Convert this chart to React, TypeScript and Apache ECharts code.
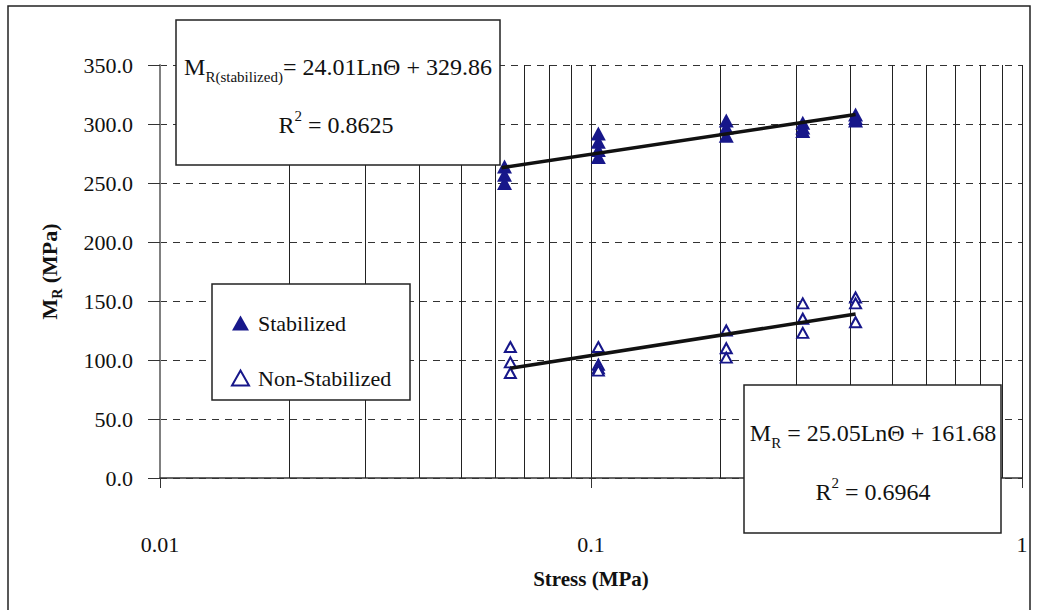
import React, { useEffect, useRef } from "react";
import * as echarts from "echarts";

const stabStress = [0.063, 0.063, 0.063, 0.104, 0.104, 0.104, 0.104, 0.206, 0.206, 0.206, 0.31, 0.31, 0.31, 0.411, 0.411, 0.411];
const stabMr = [264, 257, 250, 292, 285, 278, 272, 303, 297, 290, 301, 297, 294, 308, 305, 303];
const nonStress = [0.065, 0.065, 0.065, 0.104, 0.104, 0.104, 0.104, 0.206, 0.206, 0.206, 0.31, 0.31, 0.31, 0.411, 0.411, 0.411];
const nonMr = [111, 98, 89, 111, 96, 93, 91, 125, 110, 102, 148, 135, 123, 153, 148, 132];
const stabTrendStress = [0.062, 0.411];
const stabTrendMr = [263, 308];
const nonTrendStress = [0.065, 0.411];
const nonTrendMr = [93, 139];
const minorGridStress = [0.02, 0.03, 0.04, 0.05, 0.06, 0.07, 0.08, 0.09, 0.2, 0.3, 0.4, 0.5, 0.6, 0.7, 0.8, 0.9];
const xTickLabels: Record<string, string> = { "0.01": "0.01", "0.1": "0.1", "1": "1" };
const seriesNames = ["Stabilized", "Non-Stabilized"];

const FONT = "'Liberation Serif', serif";
const NAVY = "#17178a";

export default function App() {
  const ref = useRef<HTMLDivElement>(null);
  useEffect(() => {
    if (!ref.current) return;
    const chart = echarts.init(ref.current, null, { renderer: "svg" });
    const richEq = {
      m: { fontSize: 24, fontFamily: FONT, color: "#111", lineHeight: 34, verticalAlign: "middle" },
      s: { fontSize: 15, fontFamily: FONT, color: "#111", lineHeight: 15, verticalAlign: "bottom" },
      p: { fontSize: 15, fontFamily: FONT, color: "#111", lineHeight: 14, verticalAlign: "top" },
    };
    const eqText = (text: string, x: number, y: number) => ({
      type: "text",
      z: 101,
      silent: true,
      x,
      y,
      style: {
        text,
        rich: richEq,
        fontFamily: FONT,
        fontSize: 24,
        fill: "#111",
        align: "center",
        verticalAlign: "middle",
        textAlign: "center",
        textVerticalAlign: "middle",
      },
    });
    const box = (x: number, y: number, w: number, h: number) => ({
      type: "rect",
      z: 100,
      silent: true,
      shape: { x, y, width: w, height: h },
      style: { fill: "#fff", stroke: "#222", lineWidth: 1.5 },
    });
    chart.setOption({
      animation: false,
      backgroundColor: "#fff",
      grid: { left: 160, right: 16, top: 65, bottom: 132, containLabel: false },
      legend: {
        data: seriesNames,
        orient: "vertical",
        left: 226,
        top: 307,
        itemWidth: 17,
        itemHeight: 15,
        itemGap: 33,
        z: 200,
        selectedMode: false,
        textStyle: { fontFamily: FONT, fontSize: 22, color: "#111", padding: [0, 0, 0, 4] },
      },
      xAxis: {
        type: "log",
        logBase: 10,
        min: 0.01,
        max: 1,
        name: "Stress (MPa)",
        nameLocation: "middle",
        nameGap: 90,
        nameTextStyle: { fontFamily: FONT, fontWeight: "bold", fontSize: 21, color: "#111" },
        axisLine: { show: true, lineStyle: { color: "#333", width: 1.5 } },
        axisTick: { show: true, length: 10, lineStyle: { color: "#333" } },
        axisLabel: {
          margin: 55,
          fontFamily: FONT,
          fontSize: 22,
          color: "#111",
          formatter: (v: number) => xTickLabels[String(v)] ?? String(v),
        },
        splitLine: { show: true, lineStyle: { color: "#222", width: 1, type: "solid" } },
      },
      yAxis: {
        type: "value",
        min: 0,
        max: 350,
        interval: 50,
        name: "{m|M}{s|R}{m| (MPa)}",
        nameLocation: "middle",
        nameRotate: 90,
        nameGap: 96,
        nameTextStyle: {
          fontFamily: FONT,
          fontWeight: "bold",
          fontSize: 22,
          color: "#111",
          rich: {
            m: { fontFamily: FONT, fontWeight: "bold", fontSize: 22, color: "#111", lineHeight: 30, verticalAlign: "middle" },
            s: { fontFamily: FONT, fontWeight: "bold", fontSize: 14, color: "#111", lineHeight: 12, verticalAlign: "bottom" },
          },
        },
        axisLine: { show: true, lineStyle: { color: "#808080", width: 2 } },
        axisTick: { show: true, length: 12, lineStyle: { color: "#333" } },
        axisLabel: {
          margin: 27,
          fontFamily: FONT,
          fontSize: 22,
          color: "#111",
          formatter: (v: number) => v.toFixed(1),
        },
        splitLine: { show: true, lineStyle: { color: "#333", width: 1, type: [7, 6] } },
      },
      graphic: [
        {
          type: "rect",
          z: 0,
          silent: true,
          shape: { x: 8, y: 6, width: 1022, height: 650 },
          style: { fill: "none", stroke: "#222", lineWidth: 1.5 },
        },
        box(176, 20, 324, 145),
        eqText("{m|M}{s|R(stabilized)}{m|= 24.01LnΘ + 329.86}", 338, 67),
        eqText("{m|R}{p|2}{m| = 0.8625}", 336, 125),
        box(212, 284, 198, 116),
        box(744, 385, 257, 148),
        eqText("{m|M}{s|R}{m| = 25.05LnΘ + 161.68}", 873, 433),
        eqText("{m|R}{p|2}{m| = 0.6964}", 873, 492),
      ],
      series: [
        {
          name: "Stabilized",
          type: "scatter",
          symbol: "triangle",
          symbolSize: [15, 14],
          itemStyle: { color: NAVY, opacity: 1 },
          z: 2,
          data: stabStress.map((x, i) => [x, stabMr[i]]),
        },
        {
          name: "Non-Stabilized",
          type: "scatter",
          symbol: "emptyTriangle",
          symbolSize: [11, 10],
          itemStyle: { color: NAVY, borderWidth: 1.5, opacity: 1 },
          z: 2,
          data: nonStress.map((x, i) => [x, nonMr[i]]),
        },
        {
          name: "stabTrend",
          type: "line",
          showSymbol: false,
          symbol: "none",
          z: 3,
          lineStyle: { color: "#111", width: 3.5 },
          data: stabTrendStress.map((x, i) => [x, stabTrendMr[i]]),
        },
        {
          name: "nonTrend",
          type: "line",
          showSymbol: false,
          symbol: "none",
          z: 3,
          lineStyle: { color: "#111", width: 3.5 },
          data: nonTrendStress.map((x, i) => [x, nonTrendMr[i]]),
          markLine: {
            silent: true,
            symbol: ["none", "none"],
            label: { show: false },
            lineStyle: { color: "#222", width: 1, type: "solid" },
            z: 1,
            data: minorGridStress.map((v) => ({ xAxis: v })),
          },
        },
      ],
    });
    return () => chart.dispose();
  }, []);
  return (
    <div
      ref={ref}
      style={{ position: "fixed", left: 0, top: 0, width: 1038, height: 610, background: "#fff" }}
    />
  );
}
